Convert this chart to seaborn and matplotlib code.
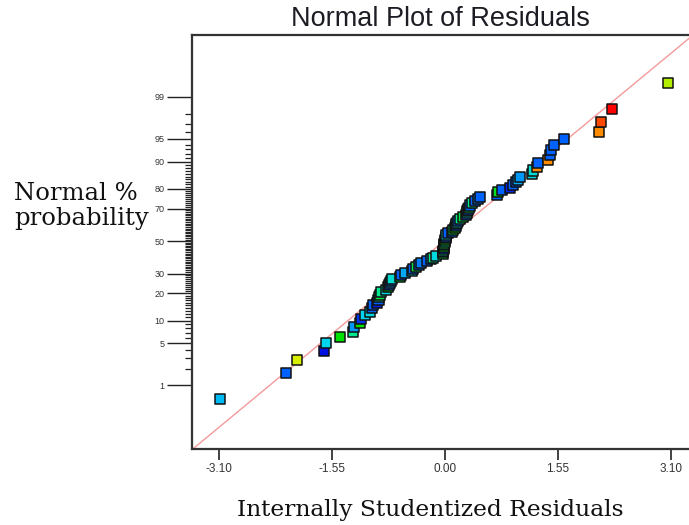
import numpy as np
import pandas as pd
import matplotlib
matplotlib.use("Agg")
import matplotlib.pyplot as plt
from matplotlib.colors import LinearSegmentedColormap
from matplotlib.ticker import FixedLocator, NullFormatter
import seaborn as sns
from statistics import NormalDist

# Internally studentized residuals of the runs (sorted)
residuals = [
    -3.09, -2.18, -2.03, -1.66, -1.63, -1.44, -1.26, -1.25, -1.17, -1.15,
    -1.09, -1.03, -1.00, -0.99, -0.93, -0.91, -0.90, -0.89, -0.88, -0.81,
    -0.78, -0.77, -0.75, -0.74, -0.73, -0.62, -0.60, -0.54, -0.45, -0.44,
    -0.40, -0.36, -0.32, -0.25, -0.19, -0.16, -0.12, -0.02, -0.02, -0.02,
    -0.01, -0.01, -0.01, -0.01, 0.00, 0.00, 0.01, 0.01, 0.02, 0.04,
    0.10, 0.11, 0.14, 0.15, 0.16, 0.17, 0.18, 0.21, 0.25, 0.29,
    0.30, 0.31, 0.32, 0.33, 0.34, 0.38, 0.41, 0.45, 0.48, 0.71,
    0.73, 0.78, 0.89, 0.93, 0.98, 1.01, 1.03, 1.20, 1.21, 1.26,
    1.28, 1.41, 1.45, 1.46, 1.50, 1.64, 2.11, 2.14, 2.29, 3.07,
]

# Colour-scale value of each run (0 = blue ... 1 = red)
shade = [
    0.22, 0.12, 0.72, 0.00, 0.25, 0.50, 0.40, 0.18, 0.50, 0.05,
    0.25, 0.27, 0.12, 0.12, 0.02, 0.12, 0.38, 0.45, 0.40, 0.28,
    0.48, 0.12, 0.18, 0.12, 0.30, 0.45, 0.12, 0.20, 0.28, 0.12,
    0.45, 0.12, 0.15, 0.12, 0.18, 0.40, 0.28, 0.45, 0.12, 0.40,
    0.05, 0.50, 0.12, 0.45, 0.40, 0.48, 0.12, 0.12, 0.28, 0.12,
    0.12, 0.45, 0.50, 0.12, 0.15, 0.28, 0.12, 0.40, 0.45, 0.12,
    0.28, 0.40, 0.12, 0.45, 0.12, 0.40, 0.12, 0.15, 0.12, 0.12,
    0.48, 0.12, 0.03, 0.12, 0.10, 0.20, 0.18, 0.28, 0.30, 0.85,
    0.12, 0.85, 0.12, 0.12, 0.12, 0.12, 0.85, 0.92, 1.00, 0.68,
]

# Normal reference line end points (residual, normal score)
line_x = [-3.47, 3.47]
line_z = [-3.36, 3.38]

prob_ticks = [1, 5, 10, 20, 30, 50, 70, 80, 90, 95, 99]
x_ticks = [-3.10, -1.55, 0.00, 1.55, 3.10]
x_limits = (-3.47, 3.47)
z_limits = (-3.35, 3.32)

nd = NormalDist()
n = len(residuals)
rank = np.argsort(np.argsort(residuals, kind="stable"), kind="stable") + 1
z_score = [nd.inv_cdf((r - 0.5) / n) for r in rank]
df = pd.DataFrame({"residual": residuals, "z": z_score, "shade": shade})

cmap = LinearSegmentedColormap.from_list(
    "design_scale",
    [(0.0, "#0010e0"), (0.12, "#0064ff"), (0.25, "#00d4f0"),
     (0.40, "#00e890"), (0.50, "#00e000"), (0.72, "#d8f000"),
     (0.85, "#ff8c00"), (1.0, "#ff0000")],
)

sns.set_style("white")
plt.rcParams["font.family"] = ["Liberation Sans", "DejaVu Sans"]

W, H = 689, 525
fig = plt.figure(figsize=(W / 100, H / 100), dpi=100)
ax_left, ax_right, ax_top, ax_bottom = 192, 697.6, 35, 449
ax = fig.add_axes([ax_left / W, 1 - ax_bottom / H,
                   (ax_right - ax_left) / W, (ax_bottom - ax_top) / H])

fit = pd.DataFrame({"x": line_x, "z": line_z})
sns.lineplot(data=fit, x="x", y="z", ax=ax, color="#f49a9a", lw=1.0,
             zorder=1)

sns.scatterplot(data=df, x="residual", y="z", hue="shade", palette=cmap,
                hue_norm=(0, 1), marker="s", s=52, edgecolor="#111111",
                linewidth=1.1, legend=False, ax=ax, zorder=3)

ax.set_xlim(*x_limits)
ax.set_ylim(*z_limits)

ax.set_xticks(x_ticks)
ax.set_xticklabels([f"{t:.2f}" for t in x_ticks], fontsize=8.5,
                   color="#333333")
ax.tick_params(axis="x", direction="out", length=8, width=1.3,
               color="#333333", pad=2, bottom=True)

major_z = [nd.inv_cdf(p / 100) for p in prob_ticks]
minor_z = [nd.inv_cdf(p / 100) for p in range(1, 100) if p not in prob_ticks]
ax.yaxis.set_major_locator(FixedLocator(major_z))
ax.set_yticklabels([str(p) for p in prob_ticks], fontsize=6.5,
                   color="#333333")
ax.yaxis.set_minor_locator(FixedLocator(minor_z))
ax.yaxis.set_minor_formatter(NullFormatter())
ax.tick_params(axis="y", which="major", direction="out", length=18,
               width=1.0, color="#222222", pad=2, left=True)
ax.tick_params(axis="y", which="minor", direction="out", length=5,
               width=0.9, color="#222222", left=True)

for side in ["left", "bottom", "top", "right"]:
    ax.spines[side].set_visible(True)
    ax.spines[side].set_color("#333333")
    ax.spines[side].set_linewidth(1.6)

ax.set_xlabel("")
ax.set_ylabel("")

fig.text(440 / W, 1 - 19 / H, "Normal Plot of Residuals", ha="center",
         va="center", fontsize=19.5, color="#1c1c24",
         family=["Liberation Sans", "DejaVu Sans"])
fig.text(430 / W, 1 - 510 / H, "Internally Studentized Residuals",
         ha="center", va="center", fontsize=16.8, color="#111111",
         family=["DejaVu Serif"])
fig.text(14 / W, 1 - 206 / H, "Normal %\nprobability", ha="left",
         va="center", fontsize=17.5, color="#111111", linespacing=1.15,
         family=["DejaVu Serif"])

fig.savefig("out.png", dpi=100)
